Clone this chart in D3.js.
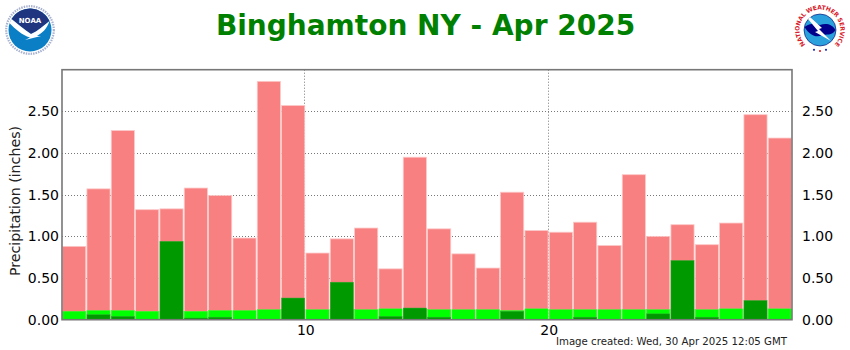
<!DOCTYPE html>
<html><head><meta charset="utf-8">
<script src="https://cdn.jsdelivr.net/npm/d3@7/dist/d3.min.js"></script>
<style>html,body{margin:0;padding:0;background:#fff}svg{display:block}text{font-family:"DejaVu Sans",sans-serif}</style>
</head><body><svg id="c" width="850" height="350"></svg>
<script>
const days = d3.range(1, 31);
const totals = [.88,1.57,2.27,1.32,1.33,1.58,1.49,.98,2.86,2.57,.80,.97,1.10,.61,1.95,1.09,.79,.62,1.53,1.07,1.05,1.17,.89,1.74,1.00,1.14,.90,1.16,2.46,2.18];
const normals = [.10,.11,.11,.10,.10,.10,.11,.11,.12,.12,.12,.12,.12,.13,.12,.12,.12,.12,.11,.13,.12,.12,.12,.12,.12,.12,.12,.13,.13,.13];
const observed = [0,.06,.04,0,.94,.02,.03,0,0,.26,0,.45,0,.04,.14,.03,0,0,.10,0,0,.03,0,0,.07,.71,.03,0,.23,0];
const yTicks = [0,.5,1,1.5,2,2.5];
const xTicks = [10,20];
const titleText = "Binghamton NY - Apr 2025";
const stampText = "Image created: Wed, 30 Apr 2025 12:05 GMT";
const yLabel = "Precipitation (inches)";
const nwsText = "NATIONAL WEATHER SERVICE";

const svg = d3.select("#c");
const x = d3.scaleLinear().domain([0,30]).range([62,792]);
const y = d3.scaleLinear().domain([0,3]).range([319.7,69.7]);

function bars(vals, fill, stroke, sw){
  svg.append("g").selectAll("rect").data(vals.map((v,i)=>({v,i})).filter(d=>d.v>0)).join("rect")
    .attr("x",d=>x(d.i)+.6).attr("width",d=>x(d.i+1)-x(d.i)-1.2)
    .attr("y",d=>y(d.v)).attr("height",d=>y(0)-y(d.v))
    .attr("fill",fill).attr("stroke",stroke).attr("stroke-width",sw);
}

const grid = svg.append("g");
grid.selectAll("line.h").data(yTicks.filter(t=>t>0)).join("line").attr("class","h")
  .attr("x1",x(0)).attr("x2",x(30)).attr("y1",d=>Math.round(y(d))+.5).attr("y2",d=>Math.round(y(d))+.5);
grid.selectAll("line.v").data(xTicks).join("line").attr("class","v")
  .attr("y1",y(3)).attr("y2",y(0)).attr("x1",d=>Math.round(x(d))-.5).attr("x2",d=>Math.round(x(d))-.5);
grid.selectAll("line").attr("stroke","#777").attr("stroke-width",1).attr("stroke-dasharray","1,2");

bars(totals,"#f98080","#fcc8c8",.8);
bars(normals,"#00ff00","#33ff33",.5);
bars(observed,"#009900","#33aa33",.5);

// Frame
svg.append("rect").attr("x",x(0)).attr("y",y(3)).attr("width",x(30)-x(0)).attr("height",y(0)-y(3))
  .attr("fill","none").attr("stroke","#777").attr("stroke-width",1.6);

// Axes drawn through d3-axis, without lines
const fmt = d3.format(".2f");
const left = svg.append("g").attr("transform",`translate(${x(0)},0)`).call(d3.axisLeft(y).tickValues(yTicks).tickFormat(fmt).tickSize(0).tickPadding(3));
const right = svg.append("g").attr("transform",`translate(${x(30)},0)`).call(d3.axisRight(y).tickValues(yTicks).tickFormat(fmt).tickSize(0).tickPadding(10));
const bottom = svg.append("g").attr("transform",`translate(0,${y(0)})`).call(d3.axisBottom(x).tickValues(xTicks).tickFormat(d3.format("d")).tickSize(0).tickPadding(5));
[left,right,bottom].forEach(g=>{
  g.select(".domain").remove();
  g.selectAll("text").attr("font-size",14).attr("fill","#000").attr("font-family",'"DejaVu Sans",sans-serif');
});

svg.append("text").attr("transform","translate(20,201) rotate(-90)").attr("text-anchor","middle")
  .attr("font-size",14.2).attr("fill","#222").text(yLabel);
svg.append("text").attr("x",425.5).attr("y",35).attr("text-anchor","middle").attr("font-size",28)
  .attr("font-weight","bold").attr("fill","#008000").text(titleText);
svg.append("text").attr("x",787).attr("y",345).attr("text-anchor","end").attr("font-size",10.2)
  .attr("fill","#222").text(stampText);

// NOAA logo
const noaa = svg.append("g").attr("transform","translate(30,30)");
noaa.append("circle").attr("r",23.8).attr("fill","#fff").attr("stroke","#a9b3d0").attr("stroke-width",2.2).attr("stroke-dasharray","1.5,1");
noaa.append("circle").attr("r",21.5).attr("fill","#0b7fc6");
noaa.append("path").attr("d","M-18.5,-11 A21.5,21.5 0 0 1 19.5,-9 C13,-4 8,1 1,4 C-5,0 -12,-6 -18.5,-11Z").attr("fill","#1f3580");
noaa.append("path").attr("d","M-20.5,-7 L-18.5,-11 C-12,-6 -5,0 1,4 C8,1 13,-4 19.5,-9 C17,-1 12,3 7,6 L11,6 L-5,10 L0,7.5 C-8,5 -15,-1 -20.5,-7Z").attr("fill","#fff");
noaa.append("text").attr("y",-7).attr("text-anchor","middle").attr("font-size",7).attr("font-weight","bold").attr("fill","#fff").text("NOAA");

// NWS logo
const nws = svg.append("g").attr("transform","translate(820,30)");
nws.append("path").attr("id","nwsArc").attr("d","M-14,15 A20.5,20.5 0 1 1 14,15").attr("fill","none");
nws.append("text").attr("font-size",6).attr("font-weight","bold").attr("fill","#d8202a")
  .append("textPath").attr("href","#nwsArc").attr("startOffset","50%").attr("text-anchor","middle")
  .attr("textLength",96).attr("lengthAdjust","spacing").text(nwsText);
nws.append("circle").attr("r",16).attr("fill","#2aa0dc").attr("stroke","#00006a").attr("stroke-width",.6);
nws.append("path").attr("d","M-15.5,-3 C-9,-8 -4,-6 0,-5 C6,-7 12,-6 15.5,0 C12,6 6,4 2,5 C-3,8 -10,6 -15.5,-3Z").attr("fill","#00008c");
nws.append("path").attr("d","M-10,-13 L2,-2 L-1,-1 L11,11 L-5,2 L-2,1 L-12,-11Z").attr("fill","#fff");
nws.append("g").selectAll("circle").data([-6,0,6]).join("circle").attr("cx",d=>d).attr("cy",d=>21-Math.abs(d)*.2).attr("r",1.1).attr("fill",(d,i)=>i==1?"#d8202a":"#2233aa");
</script></body></html>
